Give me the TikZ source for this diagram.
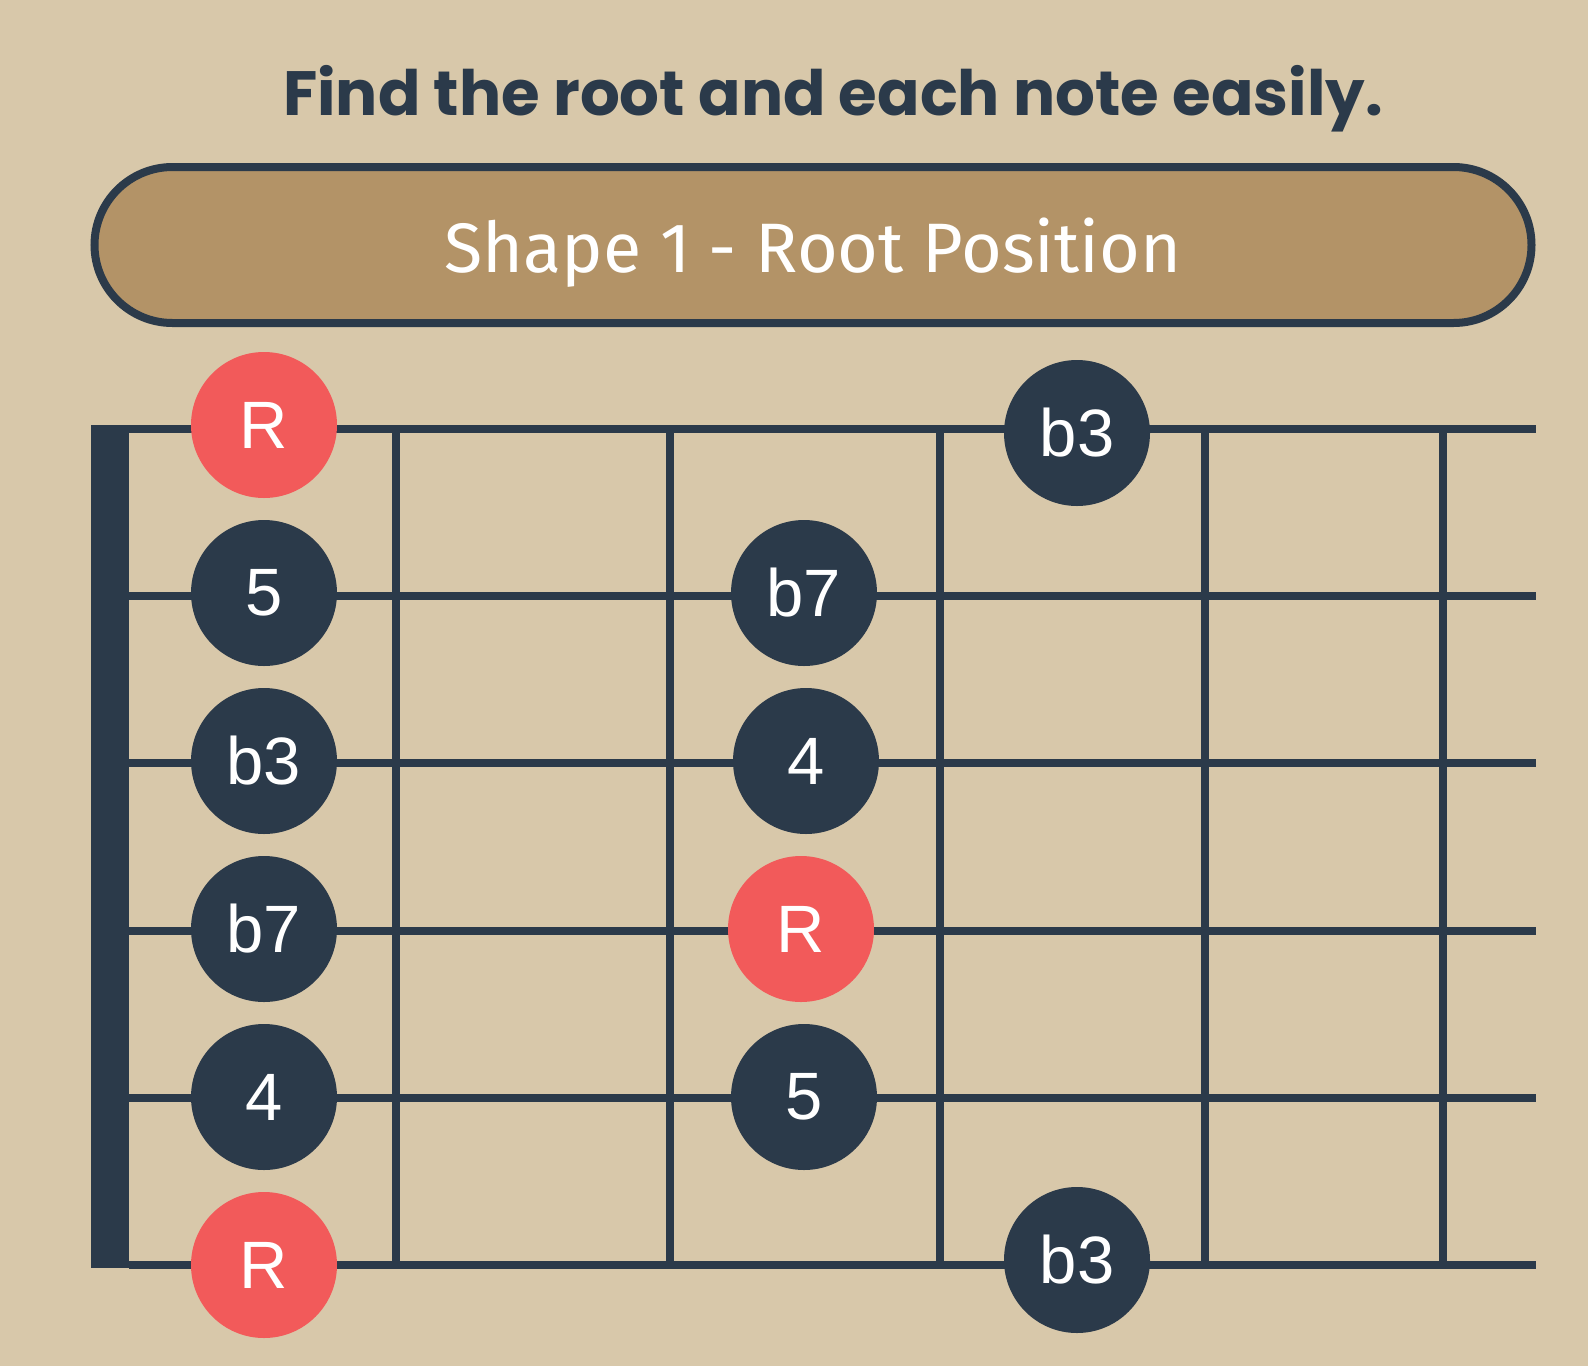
\documentclass[tikz,border=0pt]{standalone}
\usepackage{fontspec}
\setmainfont{Liberation Sans}
\newfontfamily\titlefont{Poppins}
\newfontfamily\bannerfont{Fira Sans}
\usepackage{xcolor}
\definecolor{paper}{HTML}{D8C8AA}
\definecolor{navy}{HTML}{2B3A4A}
\definecolor{rootred}{HTML}{F25A5A}
\definecolor{tan}{HTML}{B39367}

\begin{document}
\begin{tikzpicture}[x=1pt,y=-1pt,
    wire/.style={draw=navy,line width=8pt},
    note/.style={circle,fill=navy,minimum size=146pt,inner sep=0pt,
        text=white,font=\fontsize{67}{67}\selectfont},
    root/.style={note,fill=rootred},
    banner/.style={draw=navy,fill=tan,line width=8pt,rounded corners=78pt,
        minimum width=1437pt,minimum height=156pt,text=white,text depth=0pt,
        font=\bannerfont\fontsize{70}{70}\selectfont}]
    \fill[paper] (0,0) rectangle (1588,1366);

    \node[anchor=base,text=navy,font=\titlefont\bfseries\fontsize{62.6}{64}\selectfont]
        (title) at (833,115.7) {Find the root and each note easily.};
    \node[banner] (shape) at (813,245) {Shape 1 - Root Position};

    % nut, strings and frets
    \fill[navy] (90.7,425) rectangle (129.3,1268);
    \foreach \y in {429,596.2,763.4,930.6,1097.8,1265}
        \draw[wire] (129,\y) -- (1536,\y);
    \foreach \x in {395.5,670,939.5,1204.5,1443}
        \draw[wire] (\x,429) -- (\x,1265);

    % notes
    \node[root] (r1) at (264,425) {R};
    \node[note] (b3top) at (1077,433) {b3};
    \node[note] (f5a) at (264,593) {5};
    \node[note] (b7a) at (804,593) {b7};
    \node[note] (b3a) at (264,761) {b3};
    \node[note] (f4a) at (806,761) {4};
    \node[note] (b7b) at (264,929) {b7};
    \node[root] (r2) at (801,929) {R};
    \node[note] (f4b) at (264,1097) {4};
    \node[note] (f5b) at (804,1097) {5};
    \node[root] (r3) at (264,1265) {R};
    \node[note] (b3bot) at (1077,1260) {b3};
\end{tikzpicture}
\end{document}
